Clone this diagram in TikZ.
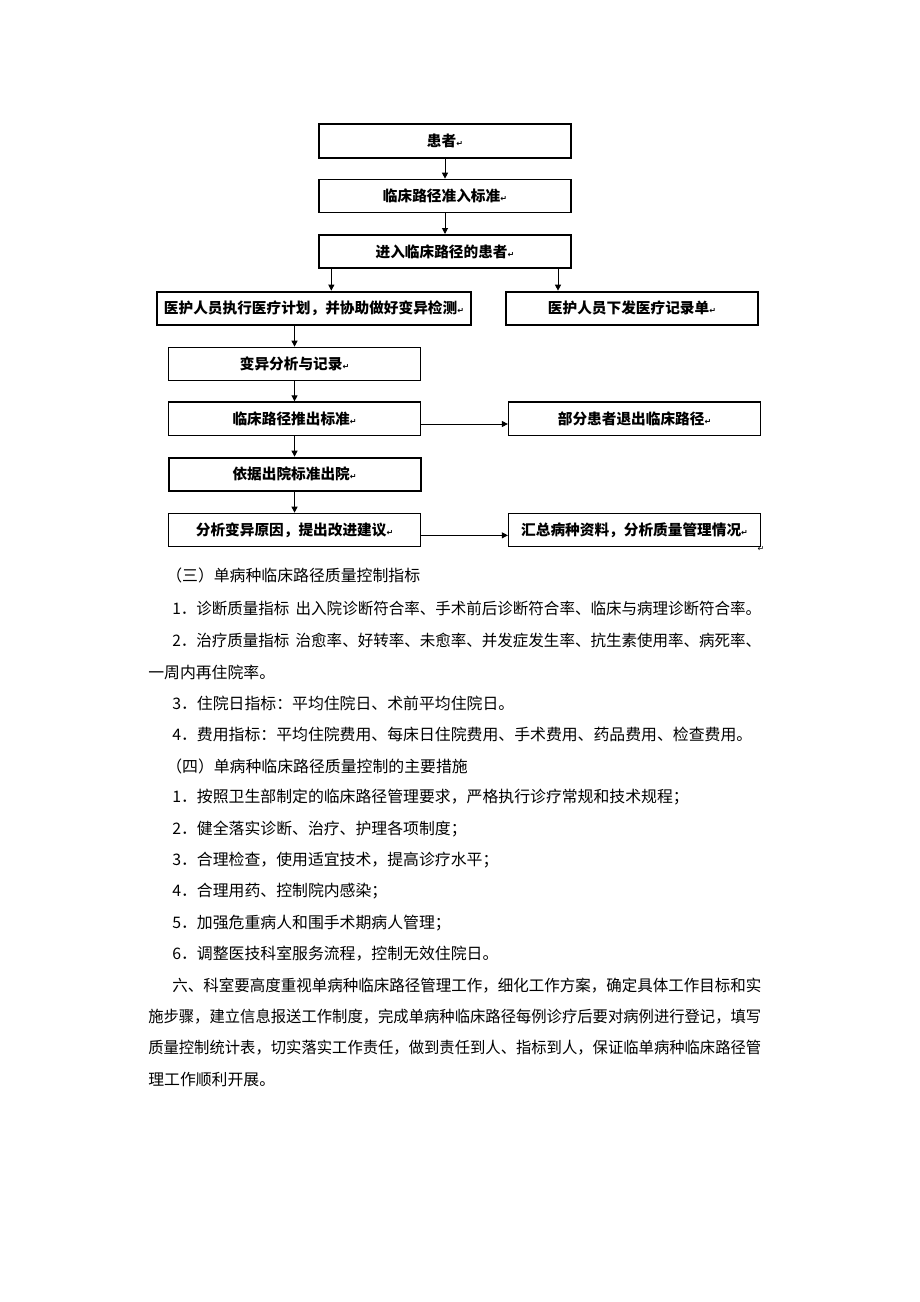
\documentclass[tikz,border=0pt]{standalone}
\usepackage{graphicx}
\usepackage{fontspec}
\setmainfont{Noto Sans CJK SC}
\newfontfamily\symfont{DejaVu Sans}
\usetikzlibrary{arrows.meta,positioning}
\newcommand{\retmark}{{\symfont\fontsize{6pt}{6pt}\selectfont ↵}}
\newcommand{\fitline}[2]{\resizebox{#1}{\height}{#2}}
\tikzset{
  base/.style={
    draw,
    line width=1pt,
    inner sep=2pt,
    minimum height=25pt,
    align=center,
    font=\fontsize{11pt}{13pt}\selectfont\bfseries,
  },
  component/.style={
    base,
    minimum width=189pt,
  },
  wide/.style={
    minimum width=235.5pt,
  },
  heavy/.style={
    line width=1.5pt,
  },
  edge/.style={
    >={Triangle[length=4.5pt,width=4.5pt]},
    line width=0.75pt,
  },
  pre/.style={
    edge,<-,
  },
  post/.style={
    edge,->,
  },
  para/.style={
    anchor=west,
    inner sep=0pt,
    font=\fontsize{11.9pt}{14pt}\selectfont,
  }
}
\begin{document}
\begin{tikzpicture}[x=0.75pt,y=-0.75pt]
    \useasboundingbox (0,0) rectangle (920,1302);

    % Main column
    \node [component, heavy] (patient) at (445,141) {患者\retmark};
    \node [component, below=15pt of patient] (entry-crit)
      {临床路径准入标准\retmark}
      edge [pre] (patient);
    \node [component, heavy, below=15.5pt of entry-crit] (in-path)
      {进入临床路径的患者\retmark}
      edge [pre] (entry-crit);

    \node [component, wide, heavy, below=16pt of in-path, xshift=-98.25pt] (exec)
      {医护人员执行医疗计划，并协助做好变异检测\retmark};
    \node [component, heavy, below=16pt of in-path, xshift=140.25pt] (issue)
      {医护人员下发医疗记录单\retmark};

    \node [component, below=15.5pt of exec, xshift=-14.6pt] (vary)
      {变异分析与记录\retmark};
    \node [component, below=15pt of vary] (exit-crit)
      {临床路径推出标准\retmark}
      edge [pre] (vary);
    \node [component, heavy, below=15.5pt of exit-crit] (discharge)
      {依据出院标准出院\retmark}
      edge [pre] (exit-crit);
    \node [component, below=15.5pt of discharge] (analyse)
      {分析变异原因，提出改进建议\retmark}
      edge [pre] (discharge);

    % Right side
    \node [component, right=65pt of exit-crit] (part-exit)
      {部分患者退出临床路径\retmark};
    \node [component, right=65pt of analyse] (summary)
      {汇总病种资料，分析质量管理情况\retmark};
    \node [inner sep=0pt] (end-mark) at (761,549) {\retmark};

    % Edges
    \draw [post] ([xshift=10pt]in-path.south west) -- ([xshift=10pt]in-path.south west |- exec.north);
    \draw [post] ([xshift=-10.5pt]in-path.south east) -- ([xshift=-10.5pt]in-path.south east |- issue.north);
    \draw [post] (vary.north |- exec.south) -- (vary.north);
    \draw [post] ([yshift=-4pt]exit-crit.east) -- ([yshift=-4pt]exit-crit.east -| part-exit.west);
    \draw [post] ([yshift=-4pt]analyse.east) -- ([yshift=-4pt]analyse.east -| summary.west);

    % Text below the chart
    \node [para] (line-1) at (166,575) {（三）单病种临床路径质量控制指标};
    \node [para] (line-2) at (172,608)
      {\fitline{441.75pt}{1．诊断质量指标\hspace{0.4em}出入院诊断符合率、手术前后诊断符合率、临床与病理诊断符合率。}};
    \node [para] (line-3) at (172,640)
      {\fitline{441.75pt}{2．治疗质量指标\hspace{0.4em}治愈率、好转率、未愈率、并发症发生率、抗生素使用率、病死率、}};
    \foreach \y/\x/\t [count=\i from 4] in {
      672/148/{一周内再住院率。},
      703/172/{3．住院日指标：平均住院日、术前平均住院日。},
      734/172/{4．费用指标：平均住院费用、每床日住院费用、手术费用、药品费用、检查费用。},
      766/166/{（四）单病种临床路径质量控制的主要措施},
      797/172/{1．按照卫生部制定的临床路径管理要求，严格执行诊疗常规和技术规程；},
      829/172/{2．健全落实诊断、治疗、护理各项制度；},
      860/172/{3．合理检查，使用适宜技术，提高诊疗水平；},
      891/172/{4．合理用药、控制院内感染；},
      923/172/{5．加强危重病人和围手术期病人管理；},
      954/172/{6．调整医技科室服务流程，控制无效住院日。}}
      \node [para] (line-\i) at (\x,\y) {\t};
    \node [para] (line-14) at (172,986)
      {\fitline{441.75pt}{六、科室要高度重视单病种临床路径管理工作，细化工作方案，确定具体工作目标和实}};
    \node [para] (line-15) at (148,1017)
      {\fitline{459.75pt}{施步骤，建立信息报送工作制度，完成单病种临床路径每例诊疗后要对病例进行登记，填写}};
    \node [para] (line-16) at (148,1048)
      {\fitline{459.75pt}{质量控制统计表，切实落实工作责任，做到责任到人、指标到人，保证临单病种临床路径管}};
    \node [para] (line-17) at (148,1080) {理工作顺利开展。};
  \end{tikzpicture}
\end{document}
